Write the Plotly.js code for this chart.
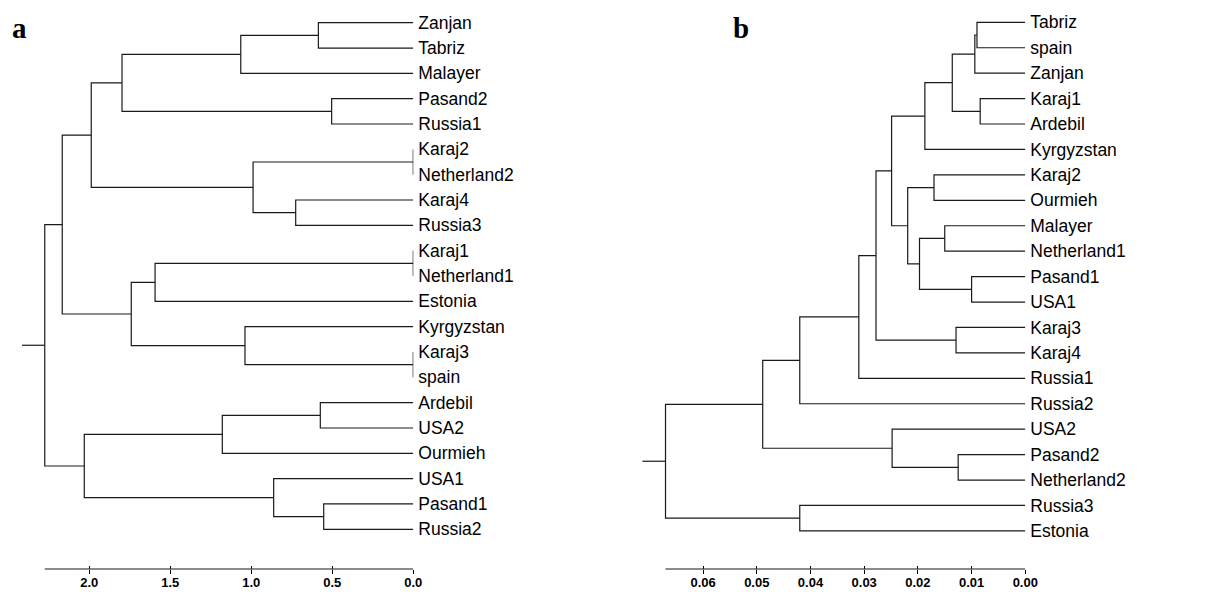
<!DOCTYPE html>
<html>
<head>
<meta charset="utf-8">
<script src="https://cdn.plot.ly/plotly-3.0.1.min.js"></script>
<style>html,body{margin:0;padding:0;background:#fff;}#chart{width:1216px;height:592px;}</style>
</head>
<body>
<div id="chart"></div>
<script>
// ---------- Panel a : leaves (top to bottom) ----------
const leavesA = ['Zanjan','Tabriz','Malayer','Pasand2','Russia1','Karaj2','Netherland2','Karaj4','Russia3',
  'Karaj1','Netherland1','Estonia','Kyrgyzstan','Karaj3','spain','Ardebil','USA2','Ourmieh','USA1','Pasand1','Russia2'];
// linkage: node ids 0..20 are leaves, merge k creates node 21+k
const leftChildA  = [0, 21, 3, 22, 5, 7, 25, 24, 9, 29, 13, 12, 30, 28, 15, 35, 19, 18, 36, 34];
const rightChildA = [1, 2, 4, 23, 6, 8, 26, 27, 10, 11, 14, 31, 32, 33, 16, 17, 20, 37, 38, 39];
const heightA     = [0.586, 1.065, 0.504, 1.798, 0.0, 0.726, 0.989, 1.988, 0.0, 1.594, 0.0, 1.039, 1.741, 2.167,
                     0.574, 1.179, 0.553, 0.862, 2.031, 2.275];
const rootStubA = 2.415;
const tickValsA = [2.0, 1.5, 1.0, 0.5, 0.0];
const tickTextA = ['2.0', '1.5', '1.0', '0.5', '0.0'];

// ---------- Panel b ----------
const leavesB = ['Tabriz','spain','Zanjan','Karaj1','Ardebil','Kyrgyzstan','Karaj2','Ourmieh','Malayer','Netherland1',
  'Pasand1','USA1','Karaj3','Karaj4','Russia1','Russia2','USA2','Pasand2','Netherland2','Russia3','Estonia'];
const leftChildB  = [0, 21, 3, 22, 24, 6, 8, 10, 27, 26, 25, 12, 31, 33, 34, 17, 16, 35, 19, 38];
const rightChildB = [1, 2, 4, 23, 5, 7, 9, 11, 28, 29, 30, 13, 32, 14, 15, 18, 36, 37, 20, 39];
const heightB     = [0.0090, 0.0094, 0.0084, 0.0136, 0.0187, 0.0170, 0.0150, 0.0100, 0.0197, 0.0219, 0.0249,
                     0.0129, 0.0278, 0.0310, 0.0420, 0.0125, 0.0248, 0.0489, 0.0420, 0.0670];
const rootStubB = 0.0713;
const tickValsB = [0.06, 0.05, 0.04, 0.03, 0.02, 0.01, 0.00];
const tickTextB = ['0.06', '0.05', '0.04', '0.03', '0.02', '0.01', '0.00'];

function dendro(leaves, lc, rc, h, stub) {
  const n = leaves.length;
  const ys = [], hs = [];
  for (let i = 0; i < n; i++) { ys.push(i); hs.push(0); }
  const xs = [], yy = [];
  for (let k = 0; k < h.length; k++) {
    const a = lc[k], b = rc[k];
    xs.push(hs[a], h[k], h[k], hs[b], null);
    yy.push(ys[a], ys[a], ys[b], ys[b], null);
    ys.push((ys[a] + ys[b]) / 2);
    hs.push(h[k]);
  }
  const root = ys.length - 1;
  xs.push(hs[root], stub, null);
  yy.push(ys[root], ys[root], null);
  return {x: xs, y: yy, rootH: hs[root]};
}

const dA = dendro(leavesA, leftChildA, rightChildA, heightA, rootStubA);
const dB = dendro(leavesB, leftChildB, rightChildB, heightB, rootStubB);

const lineStyle = {color: '#1a1a1a', width: 1.2};
const traces = [
  {x: dA.x, y: dA.y, xaxis: 'x', yaxis: 'y', mode: 'lines', line: lineStyle, hoverinfo: 'skip', showlegend: false},
  {x: dB.x, y: dB.y, xaxis: 'x2', yaxis: 'y2', mode: 'lines', line: lineStyle, hoverinfo: 'skip', showlegend: false},
  {x: [], y: [], xaxis: 'x3', yaxis: 'y', mode: 'lines', hoverinfo: 'skip', showlegend: false},
  {x: [], y: [], xaxis: 'x4', yaxis: 'y2', mode: 'lines', hoverinfo: 'skip', showlegend: false}
];

const W = 1216, H = 592;
const axisPx = 569;
const yBottom = (H - axisPx) / H;
const tickFont = {family: 'Liberation Sans, Arial, sans-serif', size: 13, color: '#000', weight: 'bold'};
const labelFont = {family: 'Liberation Sans, Arial, sans-serif', size: 17.5, color: '#000'};

function xAxis(domain, range, tv, tt) {
  return {domain: domain, range: range,
    showgrid: false, zeroline: false, showline: false, ticks: 'outside', ticklen: 4, tickwidth: 1,
    tickcolor: '#000', tickmode: 'array', tickvals: tv, ticktext: tt, tickfont: tickFont,
    ticklabelstandoff: -3, automargin: false, fixedrange: true};
}
function yAxis(anchor, range, names) {
  return {domain: [yBottom, 1], range: range, anchor: anchor, side: 'right',
    showgrid: false, zeroline: false, showline: false, ticks: '', tickmode: 'array',
    tickvals: names.map((_, i) => i), ticktext: names, tickfont: labelFont,
    ticklabelstandoff: 4, automargin: false, fixedrange: true};
}

const domA = [0, 413.3 / W];
const rangeA = [413.3 / 162, 0];
const domB = [600 / W, 1025.3 / W];
const rangeB = [425.3 / 5370, 0];

const xa = xAxis(domA, rangeA, tickValsA, tickTextA); xa.anchor = 'y';
const xb = xAxis(domB, rangeB, tickValsB, tickTextB); xb.anchor = 'y2';
const xa3 = {overlaying: 'x', anchor: 'y', range: rangeA, showgrid: false, zeroline: false, showline: false,
  ticks: 'inside', ticklen: 3, tickwidth: 1, tickcolor: '#000', tickmode: 'array', tickvals: tickValsA,
  showticklabels: false, automargin: false, fixedrange: true};
const xb4 = {overlaying: 'x2', anchor: 'y2', range: rangeB, showgrid: false, zeroline: false, showline: false,
  ticks: 'inside', ticklen: 3, tickwidth: 1, tickcolor: '#000', tickmode: 'array', tickvals: tickValsB,
  showticklabels: false, automargin: false, fixedrange: true};

const layout = {
  width: W, height: H,
  margin: {l: 0, r: 0, t: 0, b: 0},
  paper_bgcolor: '#fff', plot_bgcolor: 'rgba(0,0,0,0)',
  showlegend: false,
  xaxis: xa, xaxis2: xb, xaxis3: xa3, xaxis4: xb4,
  yaxis: yAxis('x', [(axisPx - 22.7) / 25.33, -22.7 / 25.33], leavesA),
  yaxis2: yAxis('x2', [(axisPx - 22.3) / 25.43, -22.3 / 25.43], leavesB),
  shapes: [
    {type: 'line', xref: 'x', yref: 'paper', x0: dA.rootH, x1: 0, y0: yBottom, y1: yBottom,
     line: {color: '#1a1a1a', width: 1.2}},
    {type: 'line', xref: 'x2', yref: 'paper', x0: dB.rootH, x1: 0, y0: yBottom, y1: yBottom,
     line: {color: '#1a1a1a', width: 1.2}}
  ],
  annotations: [
    {text: 'a', xref: 'paper', yref: 'paper', x: 10 / W, y: (H - 28) / H, xanchor: 'left', yanchor: 'middle',
     showarrow: false, font: {family: 'Liberation Serif, Times New Roman, serif', size: 29, color: '#000', weight: 'bold'}},
    {text: 'b', xref: 'paper', yref: 'paper', x: 731 / W, y: (H - 28) / H, xanchor: 'left', yanchor: 'middle',
     showarrow: false, font: {family: 'Liberation Serif, Times New Roman, serif', size: 29, color: '#000', weight: 'bold'}}
  ]
};

Plotly.newPlot('chart', traces, layout, {staticPlot: true, displayModeBar: false});
</script>
</body>
</html>
